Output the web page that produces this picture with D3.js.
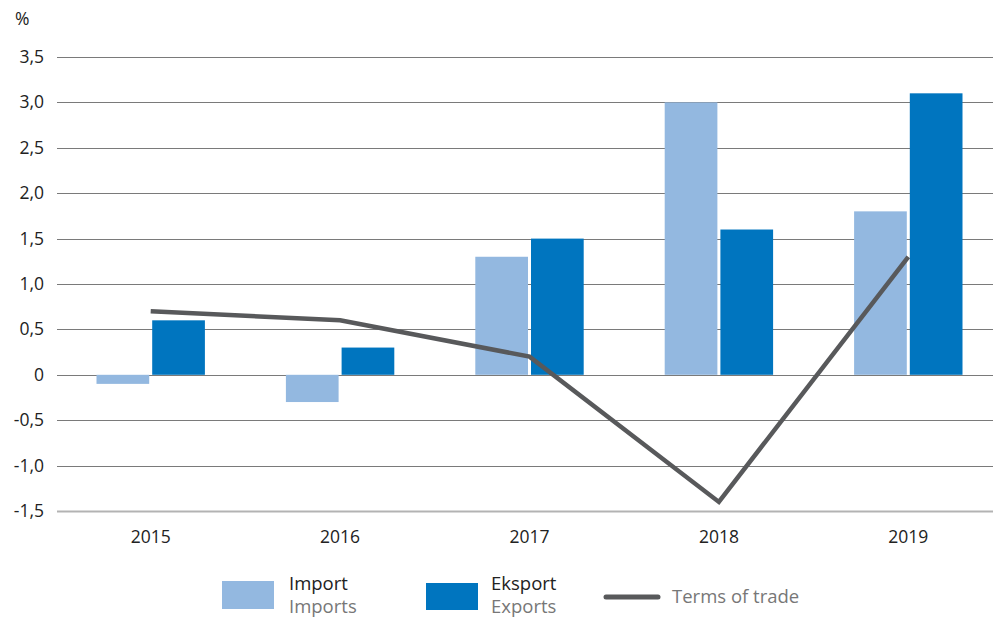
<!DOCTYPE html>
<html>
<head>
<meta charset="utf-8">
<script src="https://cdn.jsdelivr.net/npm/d3@7"></script>
<style>
  body { margin: 0; background: #fff; }
  svg { display: block; font-family: "Open Sans", "Noto Sans", sans-serif; }
  .tick-label { font-size: 17.5px; fill: #222; }
</style>
</head>
<body>
<svg id="chart" width="993" height="618"></svg>
<script>
// Data
const years = ['2015', '2016', '2017', '2018', '2019'];
const imports = [-0.1, -0.3, 1.3, 3.0, 1.8];
const exports = [0.6, 0.3, 1.5, 1.6, 3.1];
const termsOfTrade = [0.7, 0.6, 0.2, -1.4, 1.3];
const yTicks = [-1.5, -1.0, -0.5, 0, 0.5, 1.0, 1.5, 2.0, 2.5, 3.0, 3.5];

const COL_IMPORT = '#93b8e0';
const COL_EXPORT = '#0075bf';
const COL_LINE = '#58595b';

const svg = d3.select('#chart');
const W = 993;

const x = d3.scaleBand().domain(years).range([56, 1003]).padding(0);
const y = d3.scaleLinear().domain([-1.5, 3.5]).range([511, 57]);

const barW = 52.7, gap = 3;

// gridlines
svg.append('g').selectAll('line')
  .data(yTicks)
  .join('line')
  .attr('x1', 57).attr('x2', W)
  .attr('y1', d => Math.round(y(d)) + 0.5)
  .attr('y2', d => Math.round(y(d)) + 0.5)
  .attr('stroke', d => d === -1.5 ? '#b3b3b3' : '#7a7a7a')
  .attr('stroke-width', d => d === -1.5 ? 2 : 1);

// y labels
const fmt = d => d === 0 ? '0' : d3.format('.1f')(d).replace('.', ',').replace('−', '-');
svg.append('g').selectAll('text')
  .data(yTicks)
  .join('text')
  .attr('class', 'tick-label')
  .attr('x', 44)
  .attr('y', d => y(d) + 6)
  .attr('text-anchor', 'end')
  .text(fmt);

svg.append('text').attr('class', 'tick-label')
  .attr('x', 15).attr('y', 25).text('%');

// bars
const cx = d => x(d) + x.bandwidth() / 2;

svg.append('g').selectAll('rect')
  .data(years.map((yr, i) => ({ yr, v: imports[i] })))
  .join('rect')
  .attr('x', d => cx(d.yr) - gap / 2 - barW)
  .attr('width', barW)
  .attr('y', d => y(Math.max(0, d.v)))
  .attr('height', d => Math.abs(y(d.v) - y(0)))
  .attr('fill', COL_IMPORT);

svg.append('g').selectAll('rect')
  .data(years.map((yr, i) => ({ yr, v: exports[i] })))
  .join('rect')
  .attr('x', d => cx(d.yr) + gap / 2)
  .attr('width', barW)
  .attr('y', d => y(Math.max(0, d.v)))
  .attr('height', d => Math.abs(y(d.v) - y(0)))
  .attr('fill', COL_EXPORT);

// line
const line = d3.line()
  .x((d, i) => cx(years[i]))
  .y(d => y(d));

svg.append('path')
  .datum(termsOfTrade)
  .attr('d', line)
  .attr('fill', 'none')
  .attr('stroke', COL_LINE)
  .attr('stroke-width', 4.5)
  .attr('stroke-linejoin', 'miter');

// x labels
svg.append('g').selectAll('text')
  .data(years)
  .join('text')
  .attr('class', 'tick-label')
  .attr('x', d => cx(d))
  .attr('y', 543)
  .attr('text-anchor', 'middle')
  .text(d => d);

// legend
const lg = svg.append('g');
lg.append('rect').attr('x', 222).attr('y', 581).attr('width', 52).attr('height', 28).attr('fill', COL_IMPORT);
lg.append('text').attr('x', 289).attr('y', 590).attr('font-size', 18.5).attr('fill', '#222').text('Import');
lg.append('text').attr('x', 289).attr('y', 613).attr('font-size', 18.5).attr('fill', '#777').text('Imports');

lg.append('rect').attr('x', 426).attr('y', 583).attr('width', 52).attr('height', 27).attr('fill', COL_EXPORT);
lg.append('text').attr('x', 491).attr('y', 590).attr('font-size', 18.5).attr('fill', '#222').text('Eksport');
lg.append('text').attr('x', 491).attr('y', 613).attr('font-size', 18.5).attr('fill', '#777').text('Exports');

lg.append('line').attr('x1', 606).attr('x2', 658).attr('y1', 597).attr('y2', 597)
  .attr('stroke', COL_LINE).attr('stroke-width', 5).attr('stroke-linecap', 'round');
lg.append('text').attr('x', 672).attr('y', 603).attr('font-size', 18.5).attr('fill', '#777').text('Terms of trade');
</script>
</body>
</html>
